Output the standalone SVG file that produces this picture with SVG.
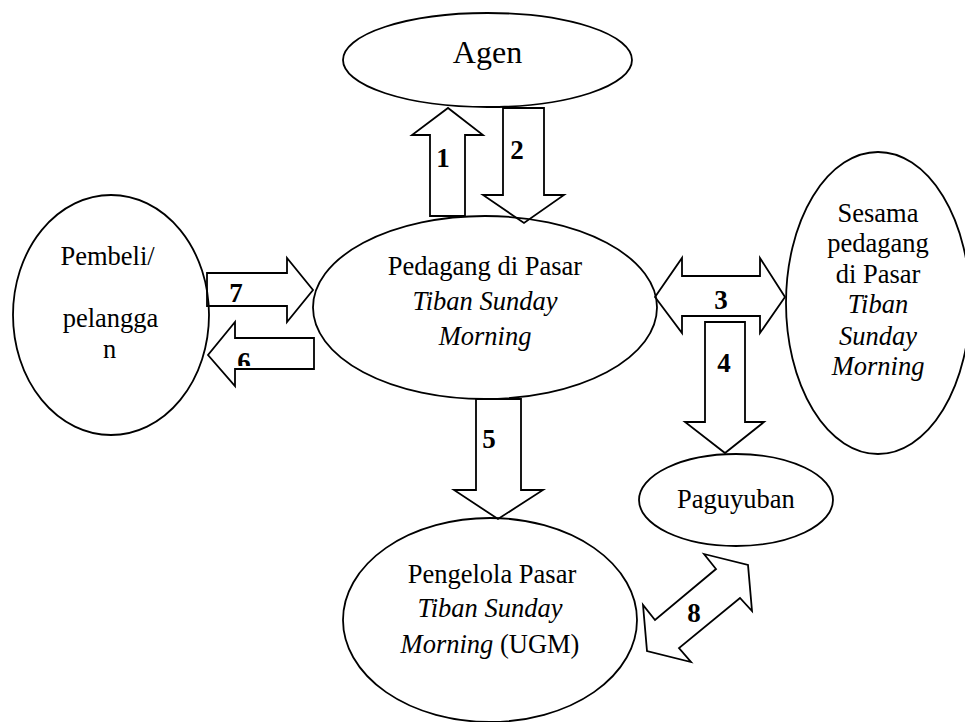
<svg xmlns="http://www.w3.org/2000/svg" width="965" height="722" viewBox="0 0 965 722">
<style>
.node ellipse{fill:#fff;stroke:#000;stroke-width:1.8}
.arr{fill:none;stroke:#000;stroke-width:1.8;stroke-linejoin:miter}
text{font-family:"Liberation Serif","Times New Roman",serif;fill:#000}
.t{font-size:26.5px;text-anchor:middle}
.i{font-style:italic}
.n{font-size:27px;font-weight:bold;text-anchor:middle}
</style>
<defs>
<clipPath id="clip6"><rect x="236" y="339" width="78" height="27"/></clipPath>
</defs>
<g id="agen" class="node">
<ellipse cx="487.5" cy="60" rx="144.5" ry="47"/>
<text class="t" x="487.5" y="63" style="font-size:32px">Agen</text>
</g>
<g id="pedagang" class="node">
<ellipse cx="485" cy="307.5" rx="172" ry="91.5"/>
<text class="t" x="485" y="275">Pedagang di Pasar</text>
<text class="t i" x="485" y="310">Tiban Sunday</text>
<text class="t i" x="485" y="345">Morning</text>
</g>
<g id="pembeli" class="node">
<ellipse cx="111" cy="315" rx="98" ry="120"/>
<text class="t" x="107.5" y="265">Pembeli/</text>
<text class="t" x="110.5" y="327">pelangga</text>
<text class="t" x="109.5" y="358">n</text>
</g>
<g id="sesama" class="node">
<ellipse cx="878" cy="303" rx="92" ry="151"/>
<text class="t" x="878" y="222">Sesama</text>
<text class="t" x="878" y="252">pedagang</text>
<text class="t" x="878" y="283">di Pasar</text>
<text class="t i" x="878" y="313">Tiban</text>
<text class="t i" x="878" y="345">Sunday</text>
<text class="t i" x="878" y="375">Morning</text>
</g>
<g id="paguyuban" class="node">
<ellipse cx="736" cy="500" rx="97" ry="46"/>
<text class="t" x="736" y="508">Paguyuban</text>
</g>
<g id="pengelola" class="node">
<ellipse cx="490" cy="620" rx="147" ry="102"/>
<text class="t" x="492" y="583">Pengelola Pasar</text>
<text class="t i" x="490" y="617">Tiban Sunday</text>
<text class="t" x="490" y="653"><tspan class="i">Morning</tspan> (UGM)</text>
</g>
<g id="connectors">
<polygon class="arr" points="430,216 430,135 412,135 448,108 483,135 465,135 465,216"/>
<text class="n" x="443" y="167">1</text>
<polygon class="arr" points="503,108 544,108 544,195 564,195 524,223 483,195 503,195"/>
<text class="n" x="517" y="159">2</text>
<polygon class="arr" points="207,273 287,273 287,258 313,290 287,322 287,306 207,306"/>
<text class="n" x="236" y="302">7</text>
<polygon class="arr" points="314,338 314,369 235,369 235,386 208,355 235,322 235,338"/>
<text class="n" x="244" y="371" clip-path="url(#clip6)">6</text>
<polygon class="arr" points="655,297 682,258 682,276 760,276 760,258 785,297 760,333 760,316 682,316 682,333"/>
<text class="n" x="721" y="309">3</text>
<polygon class="arr" points="705,322 745,322 745,422 764,422 725,453 685,422 705,422"/>
<text class="n" x="724" y="372">4</text>
<polygon class="arr" points="476,399 521,399 521,490 543,490 498,519 454,490 476,490"/>
<text class="n" x="489" y="448">5</text>
<polygon class="arr" points="704,554 748,565 752,611 740,598 679,648 691,662 647,651 643,605 655,620 716,569"/>
<text class="n" x="694" y="622">8</text>
</g>
</svg>
